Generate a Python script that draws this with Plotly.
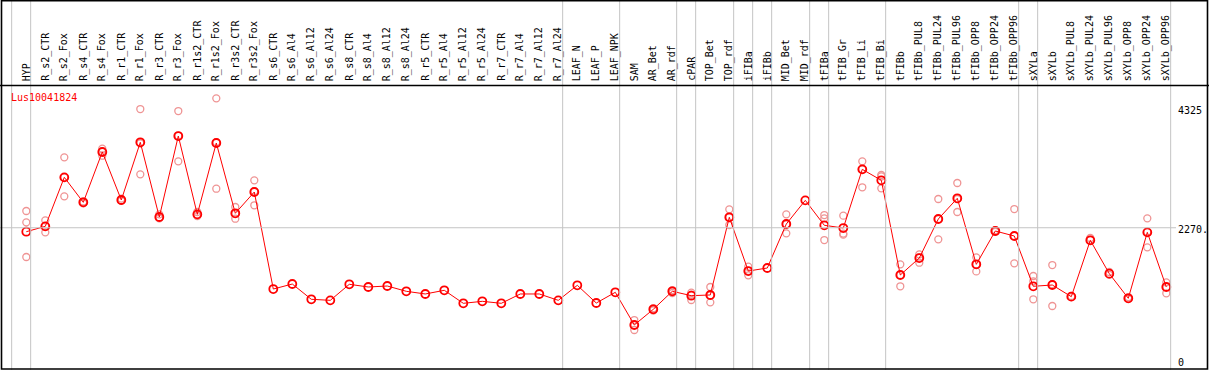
import plotly.graph_objects as go

categories = ["HYP", "R_s2_CTR", "R_s2_Fox", "R_s4_CTR", "R_s4_Fox", "R_r1_CTR", "R_r1_Fox",
              "R_r3_CTR", "R_r3_Fox", "R_r1s2_CTR", "R_r1s2_Fox", "R_r3s2_CTR", "R_r3s2_Fox",
              "R_s6_CTR", "R_s6_Al4", "R_s6_Al12", "R_s6_Al24", "R_s8_CTR", "R_s8_Al4",
              "R_s8_Al12", "R_s8_Al24", "R_r5_CTR", "R_r5_Al4", "R_r5_Al12", "R_r5_Al24",
              "R_r7_CTR", "R_r7_Al4", "R_r7_Al12", "R_r7_Al24", "LEAF_N", "LEAF_P", "LEAF_NPK",
              "SAM", "AR_Bet", "AR_rdf", "cPAR", "TOP_Bet", "TOP_rdf", "iFIBa", "iFIBb",
              "MID_Bet", "MID_rdf", "tFIBa", "tFIB_Gr", "tFIB_Li", "tFIB_Bi", "tFIBb",
              "tFIBb_PUL8", "tFIBb_PUL24", "tFIBb_PUL96", "tFIBb_OPP8", "tFIBb_OPP24",
              "tFIBb_OPP96", "sXYLa", "sXYLb", "sXYLb_PUL8", "sXYLb_PUL24", "sXYLb_PUL96",
              "sXYLb_OPP8", "sXYLb_OPP24", "sXYLb_OPP96"]

mean_values = [2202, 2294, 3135, 2706, 3570, 2746, 3736, 2454, 3844, 2500, 3724, 2518, 2883,
               1218, 1304, 1042, 1024, 1299, 1253, 1270, 1179, 1133, 1196, 973, 1007,
               973, 1133, 1133, 1024, 1282, 978, 1162,
               601, 870, 1179, 1104, 1116, 2449, 1527, 1579,
               2334, 2740, 2312, 2265, 3272, 3084, 1459,
               1750, 2420, 2775, 1642, 2214, 2128,
               1265, 1287, 1087, 2054, 1482, 1059, 2191, 1253]

replicates = [
    [2557, 2363, 1768], [2397, 2191, 2294], [3478, 2809, 3135], [2720, 2700, 2690],
    [3627, 3506, 3580], [2770, 2730, 2740], [4307, 3186, 3720], [2500, 2430, 2440],
    [4273, 3410, 3850], [2540, 2470, 2490], [4491, 2940, 3740], [2626, 2425, 2510],
    [3084, 2655, 2900],
    [], [], [], [], [], [], [], [], [], [], [], [], [], [], [], [], [], [], [],
    [686, 515, 600], [890, 850, 870], [1200, 1150, 1180], [1155, 1030, 1120],
    [1253, 990, 1110], [2586, 2317, 2450], [1601, 1453, 1530], [],
    [2500, 2174, 2330], [], [2488, 2431, 2059], [2477, 2151, 2170],
    [3410, 2964, 3272], [3175, 3150, 2946], [1642, 1265, 1460],
    [1814, 1670, 1760], [2763, 2071, 2420], [3038, 2540, 2760], [1762, 1521, 1640],
    [2230, 2200, 2214], [2591, 1659, 2130],
    [1442, 1351, 1042], [1630, 927, 1300], [1100, 1080], [2094, 2060], [1510, 1460],
    [1080, 1050], [2431, 1934, 2200], [1333, 1145, 1250],
]

gene_name = "Lus10041824"
group_ends = [None, "HYP", "R_r7_Al24", "LEAF_NPK", "AR_rdf", "cPAR", "TOP_rdf", "iFIBa",
              "iFIBb", "MID_rdf", "tFIBa", "tFIB_Bi", "tFIBb_OPP96", "sXYLa", "sXYLb_OPP96"]
y_ticks = [4325, 2270, 0]
y_tick_labels = ["4325", "2270.", "0"]
grid_value = 2270

W, H = 1209, 370
FONT = "DejaVu Sans Mono"
x_idx = list(range(len(categories)))

rep_x, rep_y = [], []
for i, reps in enumerate(replicates):
    for v in reps:
        rep_x.append(i)
        rep_y.append(v)

fig = go.Figure()
fig.add_trace(go.Scatter(x=rep_x, y=rep_y, mode="markers",
                         marker=dict(symbol="circle-open", size=7, color="#ef9494",
                                     line=dict(width=1.3, color="#ef9494")),
                         hoverinfo="skip", showlegend=False))
fig.add_trace(go.Scatter(x=x_idx, y=mean_values, mode="lines+markers",
                         line=dict(color="#ff0000", width=1),
                         marker=dict(symbol="circle-open", size=8, color="#ff0000",
                                     line=dict(width=1.8, color="#ff0000")),
                         showlegend=False))

# pixel -> axis mappings
px_step = 19.0
px_first = 26.3
x_range = [(0 - px_first) / px_step, (W - px_first) / px_step]
v_per_px = 4325 / (360 - 108)
y_range = [(360 - H) * v_per_px, 360 * v_per_px]

shapes = []
gray = "#c4c4c4"
for g in group_ends:
    i = -1 if g is None else categories.index(g)
    xv = i + 0.23
    shapes.append(dict(type="line", xref="x", yref="paper", x0=xv, x1=xv, y0=0, y1=1,
                       line=dict(color=gray, width=1)))
shapes.append(dict(type="line", xref="paper", yref="y", x0=0, x1=1176 / W,
                   y0=grid_value, y1=grid_value, line=dict(color=gray, width=1)))
# header separator and borders
shapes.append(dict(type="line", xref="paper", yref="paper", x0=0, x1=1,
                   y0=1 - 85.5 / H, y1=1 - 85.5 / H, line=dict(color="black", width=1.5)))
shapes.append(dict(type="rect", xref="paper", yref="paper", x0=1.5 / W, x1=1 - 1.5 / W,
                   y0=1 / H, y1=1 - 0.8 / H, line=dict(color="black", width=1.6)))

annotations = []
for i, c in enumerate(categories):
    annotations.append(dict(x=i, xref="x", y=1 - 83 / H, yref="paper", text=c,
                            textangle=-90, showarrow=False, xanchor="center",
                            yanchor="bottom", font=dict(family=FONT, size=10, color="black")))
annotations.append(dict(x=9 / W, xref="paper", y=1 - 98 / H, yref="paper", text=gene_name,
                        showarrow=False, xanchor="left", yanchor="middle",
                        font=dict(family=FONT, size=10, color="#ff0000")))
for v, t in zip(y_ticks, y_tick_labels):
    annotations.append(dict(x=1176 / W, xref="paper", y=v, yref="y", text=t,
                            showarrow=False, xanchor="left", yanchor="middle", yshift=-2,
                            font=dict(family=FONT, size=10, color="black")))

fig.update_layout(
    width=W, height=H, margin=dict(l=0, r=0, t=0, b=0),
    paper_bgcolor="white", plot_bgcolor="white",
    xaxis=dict(range=x_range, visible=False, domain=[0, 1]),
    yaxis=dict(range=y_range, visible=False, domain=[0, 1]),
    shapes=shapes, annotations=annotations,
)
fig.write_html("out.html", config={"displayModeBar": False},
               post_script="document.body.style.margin='0';document.body.style.padding='0';"
                           "document.body.style.overflow='hidden';")
